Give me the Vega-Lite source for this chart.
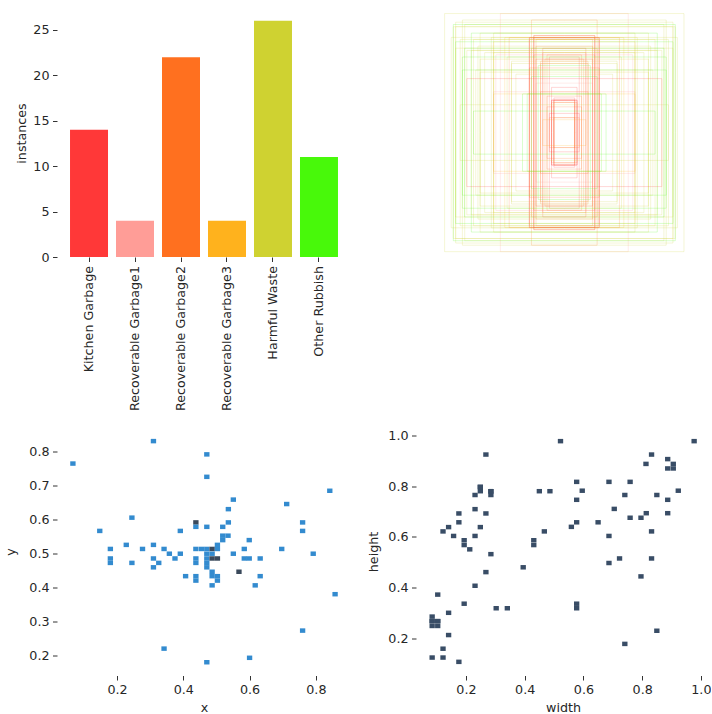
{
  "$schema": "https://vega.github.io/schema/vega-lite/v6.json",
  "background": "white",
  "padding": {"left": 4, "top": 9, "right": 0, "bottom": 0},
  "columns": 2,
  "bounds": "flush",
  "spacing": {"row": 170.5, "column": 65},
  "datasets": {
    "bars": [
      {"cls": "Kitchen Garbage", "instances": 14},
      {"cls": "Recoverable Garbage1", "instances": 4},
      {"cls": "Recoverable Garbage2", "instances": 22},
      {"cls": "Recoverable Garbage3", "instances": 4},
      {"cls": "Harmful Waste", "instances": 26},
      {"cls": "Other Rubbish", "instances": 11}
    ],
    "labels": [
      {"cls": "Recoverable Garbage1", "width": 0.522, "height": 0.979},
      {"cls": "Recoverable Garbage2", "width": 0.268, "height": 0.926},
      {"cls": "Kitchen Garbage", "width": 0.249, "height": 0.798},
      {"cls": "Kitchen Garbage", "width": 0.249, "height": 0.781},
      {"cls": "Recoverable Garbage2", "width": 0.231, "height": 0.766},
      {"cls": "Kitchen Garbage", "width": 0.285, "height": 0.781},
      {"cls": "Recoverable Garbage2", "width": 0.285, "height": 0.766},
      {"cls": "Recoverable Garbage2", "width": 0.450, "height": 0.781},
      {"cls": "Recoverable Garbage3", "width": 0.486, "height": 0.781},
      {"cls": "Recoverable Garbage2", "width": 0.231, "height": 0.710},
      {"cls": "Recoverable Garbage2", "width": 0.268, "height": 0.693},
      {"cls": "Kitchen Garbage", "width": 0.176, "height": 0.693},
      {"cls": "Recoverable Garbage2", "width": 0.176, "height": 0.658},
      {"cls": "Recoverable Garbage2", "width": 0.141, "height": 0.639},
      {"cls": "Kitchen Garbage", "width": 0.122, "height": 0.622},
      {"cls": "Recoverable Garbage2", "width": 0.158, "height": 0.604},
      {"cls": "Recoverable Garbage2", "width": 0.249, "height": 0.639},
      {"cls": "Kitchen Garbage", "width": 0.231, "height": 0.604},
      {"cls": "Recoverable Garbage2", "width": 0.194, "height": 0.587},
      {"cls": "Recoverable Garbage2", "width": 0.194, "height": 0.568},
      {"cls": "Other Rubbish", "width": 0.213, "height": 0.551},
      {"cls": "Recoverable Garbage2", "width": 0.285, "height": 0.532},
      {"cls": "Other Rubbish", "width": 0.268, "height": 0.461},
      {"cls": "Recoverable Garbage1", "width": 0.231, "height": 0.407},
      {"cls": "Kitchen Garbage", "width": 0.104, "height": 0.372},
      {"cls": "Recoverable Garbage2", "width": 0.194, "height": 0.336},
      {"cls": "Other Rubbish", "width": 0.303, "height": 0.318},
      {"cls": "Other Rubbish", "width": 0.341, "height": 0.318},
      {"cls": "Recoverable Garbage2", "width": 0.141, "height": 0.300},
      {"cls": "Kitchen Garbage", "width": 0.085, "height": 0.285},
      {"cls": "Kitchen Garbage", "width": 0.085, "height": 0.267},
      {"cls": "Recoverable Garbage2", "width": 0.085, "height": 0.248},
      {"cls": "Kitchen Garbage", "width": 0.104, "height": 0.267},
      {"cls": "Recoverable Garbage2", "width": 0.104, "height": 0.248},
      {"cls": "Recoverable Garbage2", "width": 0.085, "height": 0.267},
      {"cls": "Kitchen Garbage", "width": 0.104, "height": 0.267},
      {"cls": "Recoverable Garbage2", "width": 0.141, "height": 0.212},
      {"cls": "Kitchen Garbage", "width": 0.122, "height": 0.158},
      {"cls": "Recoverable Garbage2", "width": 0.085, "height": 0.123},
      {"cls": "Recoverable Garbage2", "width": 0.122, "height": 0.123},
      {"cls": "Recoverable Garbage3", "width": 0.176, "height": 0.106},
      {"cls": "Harmful Waste", "width": 0.467, "height": 0.622},
      {"cls": "Harmful Waste", "width": 0.431, "height": 0.587},
      {"cls": "Harmful Waste", "width": 0.431, "height": 0.568},
      {"cls": "Harmful Waste", "width": 0.395, "height": 0.480},
      {"cls": "Harmful Waste", "width": 0.977, "height": 0.979},
      {"cls": "Harmful Waste", "width": 0.832, "height": 0.926},
      {"cls": "Harmful Waste", "width": 0.813, "height": 0.889},
      {"cls": "Harmful Waste", "width": 0.887, "height": 0.908},
      {"cls": "Other Rubbish", "width": 0.906, "height": 0.889},
      {"cls": "Harmful Waste", "width": 0.887, "height": 0.871},
      {"cls": "Harmful Waste", "width": 0.906, "height": 0.871},
      {"cls": "Harmful Waste", "width": 0.577, "height": 0.818},
      {"cls": "Harmful Waste", "width": 0.687, "height": 0.818},
      {"cls": "Other Rubbish", "width": 0.759, "height": 0.818},
      {"cls": "Harmful Waste", "width": 0.596, "height": 0.783},
      {"cls": "Harmful Waste", "width": 0.923, "height": 0.783},
      {"cls": "Recoverable Garbage3", "width": 0.577, "height": 0.747},
      {"cls": "Harmful Waste", "width": 0.741, "height": 0.766},
      {"cls": "Harmful Waste", "width": 0.850, "height": 0.766},
      {"cls": "Other Rubbish", "width": 0.887, "height": 0.747},
      {"cls": "Harmful Waste", "width": 0.705, "height": 0.711},
      {"cls": "Harmful Waste", "width": 0.759, "height": 0.676},
      {"cls": "Harmful Waste", "width": 0.796, "height": 0.676},
      {"cls": "Other Rubbish", "width": 0.814, "height": 0.694},
      {"cls": "Harmful Waste", "width": 0.887, "height": 0.694},
      {"cls": "Harmful Waste", "width": 0.577, "height": 0.658},
      {"cls": "Recoverable Garbage1", "width": 0.559, "height": 0.640},
      {"cls": "Harmful Waste", "width": 0.650, "height": 0.658},
      {"cls": "Harmful Waste", "width": 0.687, "height": 0.604},
      {"cls": "Other Rubbish", "width": 0.832, "height": 0.622},
      {"cls": "Harmful Waste", "width": 0.687, "height": 0.497},
      {"cls": "Harmful Waste", "width": 0.723, "height": 0.515},
      {"cls": "Other Rubbish", "width": 0.832, "height": 0.515},
      {"cls": "Kitchen Garbage", "width": 0.796, "height": 0.444},
      {"cls": "Recoverable Garbage1", "width": 0.577, "height": 0.336},
      {"cls": "Recoverable Garbage3", "width": 0.577, "height": 0.318},
      {"cls": "Harmful Waste", "width": 0.850, "height": 0.229},
      {"cls": "Other Rubbish", "width": 0.741, "height": 0.177},
      {"cls": "Recoverable Garbage2", "width": 0.249, "height": 0.798},
      {"cls": "Kitchen Garbage", "width": 0.285, "height": 0.781}
    ],
    "xy": [
      {"x": 0.067, "y": 0.765, "n": 1},
      {"x": 0.310, "y": 0.831, "n": 1},
      {"x": 0.471, "y": 0.792, "n": 1},
      {"x": 0.471, "y": 0.726, "n": 1},
      {"x": 0.842, "y": 0.685, "n": 1},
      {"x": 0.712, "y": 0.646, "n": 1},
      {"x": 0.551, "y": 0.659, "n": 1},
      {"x": 0.536, "y": 0.631, "n": 1},
      {"x": 0.245, "y": 0.606, "n": 1},
      {"x": 0.438, "y": 0.592, "n": 2},
      {"x": 0.536, "y": 0.592, "n": 1},
      {"x": 0.760, "y": 0.592, "n": 1},
      {"x": 0.438, "y": 0.579, "n": 1},
      {"x": 0.471, "y": 0.579, "n": 1},
      {"x": 0.519, "y": 0.579, "n": 1},
      {"x": 0.148, "y": 0.567, "n": 1},
      {"x": 0.391, "y": 0.567, "n": 1},
      {"x": 0.760, "y": 0.567, "n": 1},
      {"x": 0.519, "y": 0.553, "n": 1},
      {"x": 0.535, "y": 0.553, "n": 1},
      {"x": 0.519, "y": 0.540, "n": 1},
      {"x": 0.599, "y": 0.540, "n": 1},
      {"x": 0.228, "y": 0.526, "n": 1},
      {"x": 0.310, "y": 0.526, "n": 1},
      {"x": 0.503, "y": 0.526, "n": 1},
      {"x": 0.180, "y": 0.514, "n": 1},
      {"x": 0.277, "y": 0.514, "n": 1},
      {"x": 0.342, "y": 0.514, "n": 1},
      {"x": 0.438, "y": 0.514, "n": 1},
      {"x": 0.455, "y": 0.514, "n": 1},
      {"x": 0.471, "y": 0.514, "n": 1},
      {"x": 0.487, "y": 0.514, "n": 2},
      {"x": 0.503, "y": 0.514, "n": 1},
      {"x": 0.584, "y": 0.514, "n": 1},
      {"x": 0.697, "y": 0.514, "n": 1},
      {"x": 0.358, "y": 0.500, "n": 1},
      {"x": 0.391, "y": 0.500, "n": 1},
      {"x": 0.471, "y": 0.500, "n": 1},
      {"x": 0.487, "y": 0.500, "n": 1},
      {"x": 0.551, "y": 0.500, "n": 1},
      {"x": 0.792, "y": 0.500, "n": 1},
      {"x": 0.180, "y": 0.486, "n": 1},
      {"x": 0.310, "y": 0.486, "n": 1},
      {"x": 0.375, "y": 0.486, "n": 1},
      {"x": 0.438, "y": 0.486, "n": 1},
      {"x": 0.471, "y": 0.486, "n": 1},
      {"x": 0.487, "y": 0.486, "n": 2},
      {"x": 0.503, "y": 0.486, "n": 2},
      {"x": 0.584, "y": 0.486, "n": 1},
      {"x": 0.599, "y": 0.486, "n": 1},
      {"x": 0.632, "y": 0.486, "n": 1},
      {"x": 0.180, "y": 0.473, "n": 1},
      {"x": 0.245, "y": 0.473, "n": 1},
      {"x": 0.326, "y": 0.473, "n": 1},
      {"x": 0.438, "y": 0.473, "n": 1},
      {"x": 0.471, "y": 0.473, "n": 1},
      {"x": 0.310, "y": 0.460, "n": 1},
      {"x": 0.471, "y": 0.460, "n": 1},
      {"x": 0.487, "y": 0.447, "n": 1},
      {"x": 0.568, "y": 0.447, "n": 2},
      {"x": 0.407, "y": 0.434, "n": 1},
      {"x": 0.438, "y": 0.434, "n": 1},
      {"x": 0.487, "y": 0.434, "n": 1},
      {"x": 0.503, "y": 0.434, "n": 1},
      {"x": 0.632, "y": 0.434, "n": 1},
      {"x": 0.438, "y": 0.421, "n": 1},
      {"x": 0.503, "y": 0.421, "n": 1},
      {"x": 0.487, "y": 0.407, "n": 1},
      {"x": 0.617, "y": 0.407, "n": 1},
      {"x": 0.858, "y": 0.381, "n": 1},
      {"x": 0.760, "y": 0.274, "n": 1},
      {"x": 0.342, "y": 0.221, "n": 1},
      {"x": 0.600, "y": 0.194, "n": 1},
      {"x": 0.471, "y": 0.181, "n": 1}
    ]
  },
  "concat": [
    {
      "width": 294,
      "height": 248,
      "data": {"name": "bars"},
      "mark": {"type": "bar"},
      "encoding": {
        "x": {
          "field": "cls", "type": "nominal", "sort": null,
          "scale": {"paddingInner": 0.174, "paddingOuter": 0.283},
          "axis": {"title": null, "labelAngle": -90, "labelPadding": 4}
        },
        "y": {
          "field": "instances", "type": "quantitative",
          "scale": {"domain": [0, 27.3], "nice": false},
          "axis": {"title": "instances", "values": [0, 5, 10, 15, 20, 25], "titlePadding": 4.8}
        },
        "color": {
          "field": "cls", "type": "nominal",
          "scale": {
            "domain": ["Kitchen Garbage", "Recoverable Garbage1", "Recoverable Garbage2", "Recoverable Garbage3", "Harmful Waste", "Other Rubbish"],
            "range": ["#FF3838", "#FF9D97", "#FF701F", "#FFB21D", "#CFD231", "#48F90A"]
          },
          "legend": null
        }
      }
    },
    {
      "width": 294,
      "height": 248,
      "data": {"name": "labels"},
      "resolve": {"scale": {"x": "independent", "y": "independent"}},
      "layer": [
        {
          "mark": {"type": "rule", "strokeWidth": 1, "opacity": 0.2},
          "encoding": {
            "x": {"field": "width", "type": "quantitative", "scale": {"domain": [-1.1894, 1.2106], "reverse": true, "nice": false, "zero": false}, "axis": null},
            "y": {"field": "height", "type": "quantitative", "scale": {"domain": [-1.023, 1.0165], "nice": false, "zero": false}, "axis": null},
            "y2": {"datum": 0},
            "color": {"field": "cls", "type": "nominal", "legend": null}
          }
        },
        {
          "mark": {"type": "rule", "strokeWidth": 1, "opacity": 0.2},
          "encoding": {
            "x": {"field": "width", "type": "quantitative", "scale": {"domain": [-1.1894, 1.2106], "reverse": true, "nice": false, "zero": false}, "axis": null},
            "y": {"field": "height", "type": "quantitative", "scale": {"domain": [-1.0165, 1.023], "reverse": true, "nice": false, "zero": false}, "axis": null},
            "y2": {"datum": 0},
            "color": {"field": "cls", "type": "nominal", "legend": null}
          }
        },
        {
          "mark": {"type": "rule", "strokeWidth": 1, "opacity": 0.2},
          "encoding": {
            "x": {"field": "width", "type": "quantitative", "scale": {"domain": [-1.2106, 1.1894], "nice": false, "zero": false}, "axis": null},
            "y": {"field": "height", "type": "quantitative", "scale": {"domain": [-1.023, 1.0165], "nice": false, "zero": false}, "axis": null},
            "y2": {"datum": 0},
            "color": {"field": "cls", "type": "nominal", "legend": null}
          }
        },
        {
          "mark": {"type": "rule", "strokeWidth": 1, "opacity": 0.2},
          "encoding": {
            "x": {"field": "width", "type": "quantitative", "scale": {"domain": [-1.2106, 1.1894], "nice": false, "zero": false}, "axis": null},
            "y": {"field": "height", "type": "quantitative", "scale": {"domain": [-1.0165, 1.023], "reverse": true, "nice": false, "zero": false}, "axis": null},
            "y2": {"datum": 0},
            "color": {"field": "cls", "type": "nominal", "legend": null}
          }
        },
        {
          "mark": {"type": "rule", "strokeWidth": 1, "opacity": 0.2},
          "encoding": {
            "y": {"field": "height", "type": "quantitative", "scale": {"domain": [-1.023, 1.0165], "nice": false, "zero": false}, "axis": null},
            "x": {"field": "width", "type": "quantitative", "scale": {"domain": [-1.1894, 1.2106], "reverse": true, "nice": false, "zero": false}, "axis": null},
            "x2": {"datum": 0},
            "color": {"field": "cls", "type": "nominal", "legend": null}
          }
        },
        {
          "mark": {"type": "rule", "strokeWidth": 1, "opacity": 0.2},
          "encoding": {
            "y": {"field": "height", "type": "quantitative", "scale": {"domain": [-1.023, 1.0165], "nice": false, "zero": false}, "axis": null},
            "x": {"field": "width", "type": "quantitative", "scale": {"domain": [-1.2106, 1.1894], "nice": false, "zero": false}, "axis": null},
            "x2": {"datum": 0},
            "color": {"field": "cls", "type": "nominal", "legend": null}
          }
        },
        {
          "mark": {"type": "rule", "strokeWidth": 1, "opacity": 0.2},
          "encoding": {
            "y": {"field": "height", "type": "quantitative", "scale": {"domain": [-1.0165, 1.023], "reverse": true, "nice": false, "zero": false}, "axis": null},
            "x": {"field": "width", "type": "quantitative", "scale": {"domain": [-1.1894, 1.2106], "reverse": true, "nice": false, "zero": false}, "axis": null},
            "x2": {"datum": 0},
            "color": {"field": "cls", "type": "nominal", "legend": null}
          }
        },
        {
          "mark": {"type": "rule", "strokeWidth": 1, "opacity": 0.2},
          "encoding": {
            "y": {"field": "height", "type": "quantitative", "scale": {"domain": [-1.0165, 1.023], "reverse": true, "nice": false, "zero": false}, "axis": null},
            "x": {"field": "width", "type": "quantitative", "scale": {"domain": [-1.2106, 1.1894], "nice": false, "zero": false}, "axis": null},
            "x2": {"datum": 0},
            "color": {"field": "cls", "type": "nominal", "legend": null}
          }
        }
      ]
    },
    {
      "width": 294,
      "height": 248,
      "data": {"name": "xy"},
      "mark": {"type": "point", "shape": "M-1,-0.84L1,-0.84L1,0.84L-1,0.84Z", "size": 28.6, "filled": true, "opacity": 1, "strokeWidth": 0},
      "encoding": {
        "x": {
          "field": "x", "type": "quantitative",
          "scale": {"domain": [0.019, 0.906], "nice": false, "zero": false},
          "axis": {"title": "x", "values": [0.2, 0.4, 0.6, 0.8], "format": ".1f", "titlePadding": 5}
        },
        "y": {
          "field": "y", "type": "quantitative",
          "scale": {"domain": [0.142, 0.871], "nice": false, "zero": false},
          "axis": {"title": "y", "values": [0.2, 0.3, 0.4, 0.5, 0.6, 0.7, 0.8], "format": ".1f", "titlePadding": 11.8}
        },
        "color": {"condition": {"test": "datum.n > 1", "value": "#3a495b"}, "value": "#338bcf"}
      }
    },
    {
      "width": 294,
      "height": 248,
      "data": {"name": "labels"},
      "mark": {"type": "point", "shape": "M-1,-0.84L1,-0.84L1,0.84L-1,0.84Z", "size": 28.6, "filled": true, "opacity": 1, "strokeWidth": 0, "color": "#394d66"},
      "encoding": {
        "x": {
          "field": "width", "type": "quantitative",
          "scale": {"domain": [0.03, 1.031], "nice": false, "zero": false},
          "axis": {"title": "width", "values": [0.2, 0.4, 0.6, 0.8, 1.0], "format": ".1f", "titlePadding": 5}
        },
        "y": {
          "field": "height", "type": "quantitative",
          "scale": {"domain": [0.052, 1.033], "nice": false, "zero": false},
          "axis": {"title": "height", "values": [0.2, 0.4, 0.6, 0.8, 1.0], "format": ".1f", "titlePadding": 7.8}
        }
      }
    }
  ],
  "config": {
    "view": {"stroke": null, "fill": "white"},
    "font": "DejaVu Sans",
    "axis": {
      "domain": false, "grid": false, "tickSize": 4.5, "tickColor": "#333333", "tickWidth": 1,
      "labelFont": "DejaVu Sans", "labelFontSize": 12.7, "labelColor": "#262626", "labelPadding": 3.5, "labelFlush": false,
      "titleFont": "DejaVu Sans", "titleFontSize": 12.7, "titleFontWeight": "normal", "titleColor": "#262626"
    }
  }
}
